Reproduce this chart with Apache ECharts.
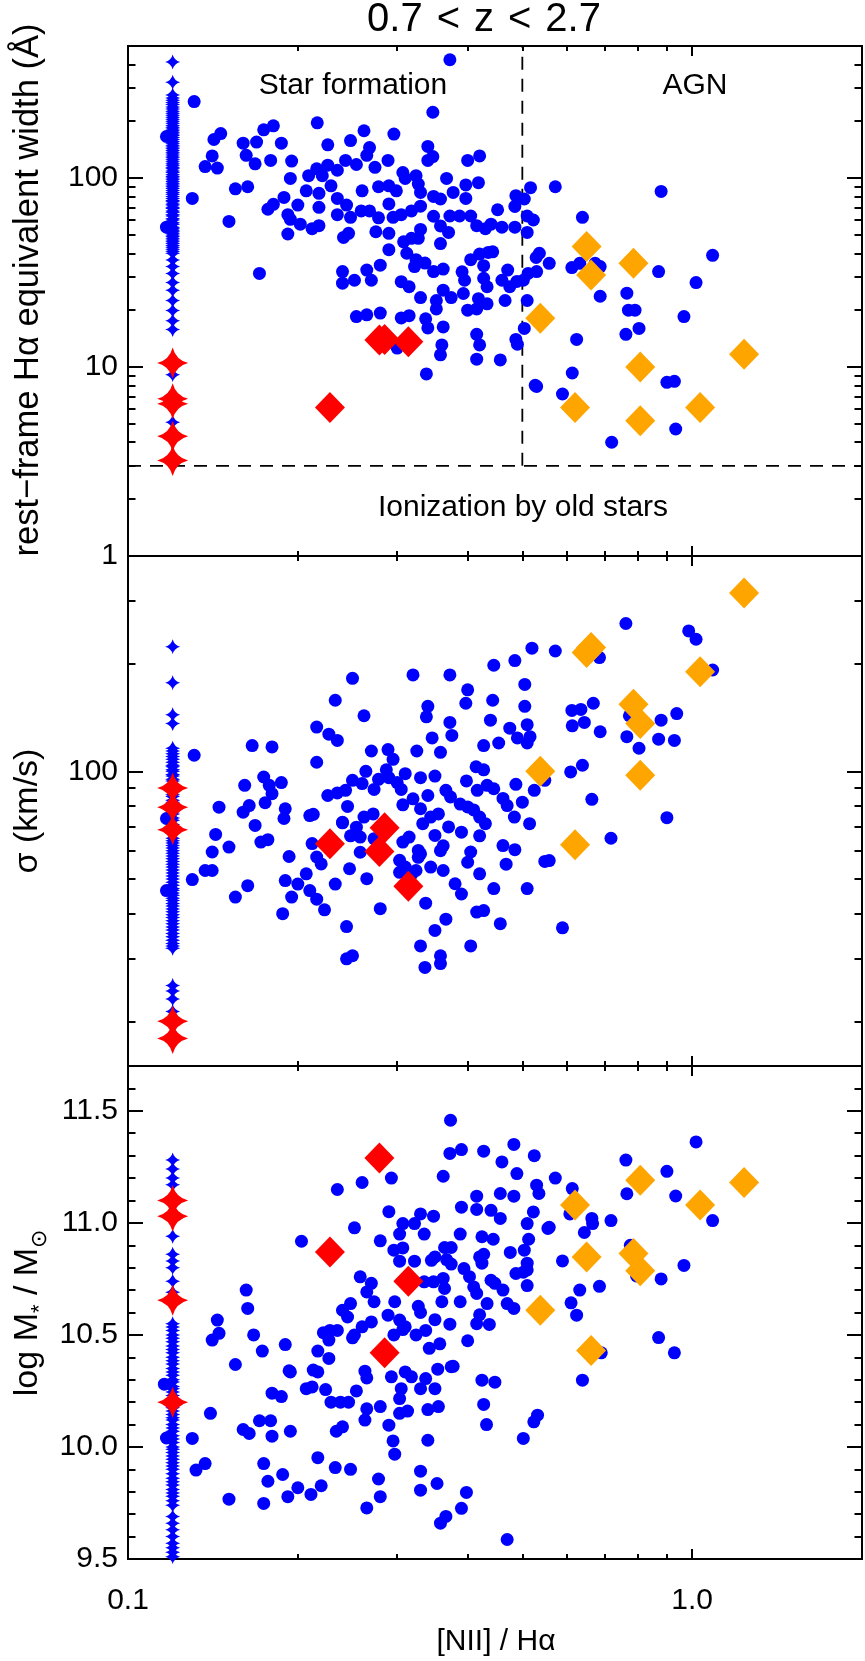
<!DOCTYPE html>
<html><head><meta charset="utf-8">
<script src="https://cdn.jsdelivr.net/npm/echarts@6/dist/echarts.min.js"></script>
<style>html,body{margin:0;padding:0;background:#fff;}#c{width:865px;height:1661px;}</style>
</head><body><div id="c"></div>
<script>
// ---------------- DATA ----------------
const titleText = '0.7 < z < 2.7';
const xTitle = '[NII] / Hα';
const ewTitle = 'rest−frame Hα equivalent width (Å)';
const sigmaTitle = 'σ (km/s)';
const regionLabels = ['Star formation', 'AGN', 'Ionization by old stars'];

const xRange = [0.1, 2.0];
const xMajorTicks = [0.1, 1.0];
const xMinorTicks = [0.2, 0.3, 0.4, 0.5, 0.6, 0.7, 0.8, 0.9];
const xTickLabels = ['0.1', '1.0'];

const ewRange = [1, 500];
const ewMajorTicks = [1, 10, 100];
const ewMinorTicks = [2,3,4,5,6,7,8,9,20,30,40,50,60,70,80,90,200,300,400];
const ewTickLabels = ['1', '10', '100'];

const sigmaRange = [15, 400];
const sigmaMajorTicks = [100];
const sigmaMinorTicks = [20,30,40,50,60,70,80,90,200,300];
const sigmaTickLabels = ['100'];

const massRange = [9.5, 11.7];
const massMajorTicks = [9.5, 10.0, 10.5, 11.0, 11.5];
const massMinorTicks = [9.6,9.7,9.8,9.9,10.1,10.2,10.3,10.4,10.6,10.7,10.8,10.9,11.1,11.2,11.3,11.4,11.6];
const massTickLabels = ['9.5', '10.0', '10.5', '11.0', '11.5'];

const agnDividerX = 0.5;
const oldStarsEW = 3;

// x position used for galaxies without [NII] detection
const limitX = 0.12;

// Blue: upper limits (plotted at limitX)
const ewBlueLimits = [411,321,275,265,258,251,245,238,232,226,220,215,210,205,200,195,190,186,182,178,175,171,168,164,160,156,153,149,146,143,140,137,134,131,128,125,122,119,117,114,112,109,107,104,102,100,98,96,94,92,90,88,86,84,82,80,78,76,75,73,72,70,69,67,66,64,63,61,60,58,57,55,54,53,52,51,50,49,48,47,46,45,44,43,42,41,40,36.9,34,31.3,28,25.5,22.5,19.9,17.6,15.8,9.1,5.1];
const sigmaBlueLimits = [223,177,144,136,116,114,112,110,108,106,104,103,101,100,98,97,95,94,92,91,89,88,86,85,83,82,80,79,77,76,74,73,71,70,68,67,65,64,63,62,61,60,59,58,57,56,55,54,53,52,51,50,49,48,47,46.5,45.7,45,44.2,43.5,42.7,42,41.2,40.5,39.7,39,38.2,37.5,36.7,36,35.2,34.5,33.7,33,32.5,32,25.2,24.3,23.1,21.3];
const massBlueLimits = [11.28,11.24,11.2,11.17,11.10,11.03,10.94,10.86,10.83,10.8,10.74,10.69,10.55,10.535,10.52,10.5,10.485,10.47,10.45,10.435,10.42,10.4,10.385,10.37,10.35,10.335,10.32,10.3,10.29,10.27,10.26,10.245,10.23,10.215,10.2,10.19,10.175,10.16,10.145,10.13,10.12,10.1,10.085,10.07,10.05,10.035,10.02,10.0,9.99,9.975,9.96,9.945,9.93,9.915,9.9,9.88,9.86,9.845,9.83,9.81,9.795,9.78,9.76,9.74,9.69,9.66,9.63,9.6,9.57,9.55,9.53,9.51];

// Red: upper limits (plotted at limitX)
const ewRedLimits = [10.5, 6.8, 6.4, 4.3, 3.2];
const sigmaRedLimits = [89.8, 79.3, 68.7, 20.0, 17.9];
const massRedLimits = [11.10, 11.03, 10.655, 10.2];

// Red diamonds
const redDiamondX = [0.228, 0.279, 0.285, 0.314];
const ewRedDiamondY = [6.1, 13.9, 14.0, 13.6];
const sigmaRedDiamondY = [62.7, 59.7, 69.5, 47.7];
const massRedDiamondY = [10.87, 11.29, 10.42, 10.74];

// Orange diamonds
const agnX = [0.538, 0.620, 0.650, 0.662, 0.787, 0.809, 0.809, 1.033, 1.236];
const ewAgnY = [18.1, 6.1, 43.5, 30.7, 35.4, 10.0, 5.2, 6.1, 11.7];
const sigmaAgnY = [100, 62.3, 215, 222, 154, 136, 97.5, 190, 315];
const massAgnY = [10.61, 11.08, 10.848, 10.43, 10.863, 11.19, 10.786, 11.08, 11.18];

// Blue dots [NII]/Ha, EW
const ewBlueDots = [[0.372,423],[0.131,254],[0.347,223],[0.2165,196],[0.174,180],[0.181,189],[0.262,178],[0.296,171],[0.142,160],[0.146,172],[0.160,153],[0.169,155],[0.187,153],[0.226,150],[0.248,158],[0.268,145],[0.265,132],[0.34,147],[0.347,130],[0.34,124],[0.42,131],[0.40,124],[0.141,131],[0.137,115],[0.144,113],[0.162,132],[0.168,119],[0.179,124],[0.195,123],[0.243,124],[0.254,118],[0.289,124],[0.209,103],[0.216,112],[0.221,103],[0.226,117],[0.235,110],[0.274,114],[0.307,107],[0.31,99.6],[0.324,103],[0.367,99.6],[0.397,92],[0.418,94.5],[0.194,99.6],[0.155,87.7],[0.163,90],[0.207,85.6],[0.218,83],[0.229,91],[0.26,85.6],[0.278,90],[0.29,91],[0.299,85.6],[0.327,93],[0.33,84],[0.377,84],[0.348,80],[0.358,77.5],[0.397,78],[0.189,79],[0.177,68.4],[0.181,72.6],[0.2,72],[0.218,70],[0.235,78],[0.244,72],[0.259,67],[0.268,67],[0.235,64],[0.248,62],[0.278,61.6],[0.29,73],[0.295,62],[0.305,64],[0.318,67],[0.33,71],[0.348,62.8],[0.358,55.8],[0.372,63],[0.387,63],[0.405,63],[0.415,56],[0.43,54],[0.44,57],[0.46,55],[0.452,68],[0.485,55],[0.485,70.8],[0.487,80.7],[0.504,77.5],[0.51,63],[0.523,60],[0.51,51.6],[0.517,89],[0.192,64],[0.194,60.5],[0.202,57],[0.212,54],[0.218,56],[0.192,50.6],[0.151,59],[0.13,78],[0.171,31.3],[0.241,48.5],[0.246,51],[0.275,52],[0.29,51],[0.28,34.6],[0.24,32],[0.24,27.8],[0.252,28.8],[0.265,32.6],[0.27,28.8],[0.29,41.8],[0.308,46],[0.318,48],[0.312,40],[0.324,37],[0.33,53.5],[0.327,48],[0.305,28.3],[0.315,26.6],[0.322,34],[0.336,35.5],[0.348,32],[0.362,33],[0.37,51.6],[0.358,45],[0.405,37],[0.42,39.6],[0.435,40.4],[0.443,40.7],[0.427,34.4],[0.427,29.5],[0.433,26.6],[0.391,31.9],[0.395,28.8],[0.46,28.8],[0.475,26.6],[0.489,28.4],[0.471,32.6],[0.502,28.8],[0.512,31.3],[0.53,32],[0.33,23.3],[0.352,22.5],[0.362,25.5],[0.374,23.3],[0.393,24.5],[0.418,23],[0.433,21.6],[0.4,20],[0.415,20.3],[0.466,22.5],[0.51,22.5],[0.254,18.5],[0.265,18.9],[0.28,19.3],[0.305,18.2],[0.315,18.7],[0.337,18],[0.34,16.1],[0.352,20.3],[0.362,16.3],[0.415,14.9],[0.42,13.1],[0.36,13.1],[0.358,11.6],[0.487,14.0],[0.49,13.2],[0.504,16],[0.3,12.6],[0.338,9.2],[0.415,11],[0.457,10.9],[0.527,8.0],[0.572,90],[0.881,85],[0.639,62],[1.087,39],[0.872,32],[1.016,28],[0.612,33.6],[0.632,35.4],[0.673,35.4],[0.687,34],[0.558,35.4],[0.536,40],[0.529,38],[0.687,23.7],[0.766,24.6],[0.771,20],[0.792,20],[0.967,18.5],[0.805,16],[0.763,14.9],[0.624,14.0],[0.613,9.3],[0.53,7.9],[0.589,7.2],[0.902,8.3],[0.93,8.4],[0.935,4.7],[0.72,4.0],[0.117,166],[0.117,55]];

// Blue dots [NII]/Ha, sigma
const sigmaBlueDots = [[0.131,110.9],[0.166,118],[0.18,117],[0.216,133],[0.227,127],[0.235,122],[0.216,106],[0.233,158],[0.25,182],[0.262,143],[0.32,186],[0.372,186],[0.4,169],[0.397,155],[0.445,198],[0.485,204],[0.52,221],[0.505,175],[0.505,152],[0.443,158],[0.34,152],[0.338,142],[0.372,137],[0.375,126],[0.439,139],[0.475,132],[0.49,124],[0.346,124],[0.358,113],[0.325,114],[0.427,118],[0.454,120],[0.51,135],[0.516,125],[0.51,120],[0.27,114],[0.289,115],[0.295,108],[0.264,100],[0.287,101],[0.29,96],[0.3,93],[0.305,89],[0.31,98.5],[0.33,96],[0.35,97],[0.414,103],[0.427,101],[0.398,94],[0.416,88.5],[0.433,91.4],[0.445,89.4],[0.462,84],[0.47,80.2],[0.487,92],[0.484,74.5],[0.5,82],[0.525,88.5],[0.548,94.4],[0.25,94.4],[0.26,92.4],[0.273,89],[0.278,95],[0.226,85.6],[0.235,87],[0.243,88.5],[0.245,79.8],[0.24,72],[0.248,66],[0.262,74.5],[0.272,76],[0.254,69.8],[0.258,65.5],[0.258,59.4],[0.273,64.8],[0.307,80.6],[0.32,83.8],[0.33,78.6],[0.34,85.6],[0.333,71.4],[0.344,74.5],[0.355,76],[0.37,69.9],[0.366,88.5],[0.373,84.8],[0.388,81],[0.4,79.5],[0.41,78],[0.42,74.5],[0.43,71.4],[0.35,66.2],[0.362,61.9],[0.358,60],[0.39,67.6],[0.42,66],[0.462,62],[0.485,60.4],[0.468,55],[0.515,71.4],[0.548,56],[0.51,47],[0.405,59.5],[0.4,55.7],[0.344,54],[0.362,52.8],[0.38,48.5],[0.39,45.4],[0.303,56.4],[0.31,54],[0.303,52.2],[0.318,51.4],[0.324,52.8],[0.33,58.8],[0.315,65.5],[0.307,63.4],[0.327,60.1],[0.327,57.5],[0.42,51.7],[0.427,40.8],[0.415,40.4],[0.445,47],[0.457,37.5],[0.28,41.3],[0.265,50.1],[0.247,53.4],[0.233,48.4],[0.22,55.1],[0.216,57.6],[0.212,62.8],[0.23,62.1],[0.207,51.7],[0.2,48.4],[0.19,49.5],[0.195,44.5],[0.21,46.4],[0.216,43.9],[0.223,41],[0.188,40],[0.193,57.8],[0.19,78.6],[0.189,73.8],[0.21,75.2],[0.213,75.8],[0.24,71.8],[0.244,36.8],[0.25,30.5],[0.244,29.9],[0.33,32.5],[0.336,28.3],[0.358,30.5],[0.358,29],[0.366,38.6],[0.35,35.9],[0.405,32.5],[0.337,42.8],[0.161,91.4],[0.174,96.4],[0.178,91.4],[0.18,86.6],[0.187,93],[0.175,81.7],[0.164,80.2],[0.16,76.9],[0.145,79.4],[0.143,66.6],[0.141,59.5],[0.151,61.4],[0.168,70.6],[0.172,63.4],[0.177,64.4],[0.13,49.8],[0.137,52.8],[0.141,52.8],[0.155,44.5],[0.163,47.9],[0.117,46.4],[0.117,73.8],[0.763,259],[0.986,247],[1.016,234],[0.572,217],[0.685,208],[1.087,192],[0.612,148],[0.635,149],[0.668,155],[0.774,143],[0.613,134],[0.644,137],[0.687,129],[0.881,139],[0.939,145],[0.766,125],[0.805,116],[0.872,123],[0.93,122],[0.639,104],[0.609,99.6],[0.664,83.5],[0.902,74.2],[0.718,65],[0.558,56.3],[0.589,36.5]];

// Blue dots [NII]/Ha, log stellar mass
const massBlueDots = [[0.373,11.458],[0.372,11.31],[0.39,11.327],[0.427,11.32],[0.46,11.272],[0.483,11.35],[0.525,11.3],[0.362,11.208],[0.293,11.2],[0.26,11.18],[0.235,11.149],[0.489,11.22],[0.53,11.168],[0.535,11.131],[0.415,11.119],[0.457,11.131],[0.483,11.119],[0.29,11.05],[0.39,11.07],[0.415,11.06],[0.44,11.056],[0.457,11.02],[0.33,11.04],[0.348,11.03],[0.307,10.997],[0.322,10.997],[0.252,10.978],[0.523,11.049],[0.51,10.997],[0.555,10.975],[0.203,10.918],[0.28,10.92],[0.303,10.95],[0.335,10.95],[0.388,10.95],[0.424,10.938],[0.444,10.927],[0.296,10.878],[0.307,10.888],[0.303,10.829],[0.322,10.829],[0.364,10.89],[0.374,10.89],[0.367,10.836],[0.374,10.816],[0.345,10.833],[0.35,10.848],[0.42,10.848],[0.424,10.82],[0.427,10.86],[0.476,10.868],[0.504,10.878],[0.51,10.82],[0.51,10.79],[0.51,10.72],[0.487,10.774],[0.502,10.78],[0.394,10.796],[0.403,10.76],[0.41,10.714],[0.415,10.685],[0.44,10.744],[0.447,10.73],[0.462,10.7],[0.47,10.64],[0.483,10.618],[0.335,10.737],[0.348,10.737],[0.362,10.752],[0.364,10.707],[0.258,10.759],[0.27,10.73],[0.265,10.692],[0.273,10.648],[0.24,10.61],[0.248,10.64],[0.245,10.58],[0.297,10.648],[0.327,10.628],[0.33,10.6],[0.36,10.648],[0.388,10.648],[0.42,10.59],[0.433,10.64],[0.415,10.55],[0.437,10.547],[0.35,10.568],[0.372,10.548],[0.289,10.588],[0.26,10.536],[0.27,10.558],[0.252,10.5],[0.25,10.487],[0.228,10.52],[0.235,10.52],[0.222,10.51],[0.227,10.477],[0.296,10.5],[0.307,10.524],[0.324,10.5],[0.337,10.52],[0.303,10.566],[0.31,10.536],[0.342,10.44],[0.357,10.46],[0.4,10.474],[0.374,10.358],[0.217,10.428],[0.227,10.395],[0.213,10.343],[0.217,10.335],[0.19,10.457],[0.194,10.335],[0.173,10.428],[0.167,10.5],[0.162,10.7],[0.163,10.618],[0.141,10.477],[0.145,10.507],[0.144,10.566],[0.155,10.368],[0.14,10.15],[0.13,10.038],[0.132,9.897],[0.137,9.926],[0.151,9.767],[0.16,10.078],[0.164,10.06],[0.171,10.117],[0.179,10.117],[0.18,10.048],[0.194,10.07],[0.174,9.926],[0.177,9.847],[0.174,9.748],[0.188,9.877],[0.192,9.778],[0.2,9.818],[0.211,9.788],[0.217,9.952],[0.22,9.827],[0.233,9.908],[0.248,9.9],[0.234,10.07],[0.24,10.09],[0.18,10.24],[0.187,10.225],[0.193,10.34],[0.207,10.26],[0.212,10.268],[0.224,10.256],[0.229,10.2],[0.238,10.2],[0.246,10.2],[0.254,10.25],[0.263,10.338],[0.265,10.308],[0.263,10.12],[0.265,10.17],[0.28,10.18],[0.265,9.728],[0.278,9.857],[0.28,9.778],[0.29,10.097],[0.295,10.027],[0.297,9.968],[0.293,10.313],[0.303,10.216],[0.305,10.26],[0.303,10.15],[0.313,10.16],[0.31,10.335],[0.318,10.313],[0.33,9.892],[0.33,9.807],[0.33,10.26],[0.337,10.305],[0.35,10.26],[0.34,10.167],[0.355,10.18],[0.34,10.03],[0.353,9.837],[0.358,9.66],[0.366,9.69],[0.39,9.726],[0.398,9.797],[0.354,10.347],[0.377,10.36],[0.424,10.298],[0.427,10.19],[0.432,10.1],[0.447,10.289],[0.47,9.587],[0.502,10.038],[0.524,10.112],[0.532,10.142],[0.116,10.28],[0.117,10.04],[1.016,11.361],[0.763,11.28],[0.902,11.23],[0.572,11.2],[0.613,11.153],[0.766,11.13],[0.935,11.12],[0.607,11.04],[0.664,11.02],[0.666,10.997],[0.644,10.957],[0.718,11.01],[1.087,11.01],[0.558,10.98],[0.513,10.927],[0.589,10.83],[0.777,10.9],[0.967,10.81],[0.881,10.75],[0.797,10.763],[0.685,10.717],[0.632,10.7],[0.61,10.643],[0.624,10.588],[0.872,10.488],[0.93,10.42],[0.69,10.42],[0.639,10.298]];

// ---------------- CHART ----------------
const FONT = '"Liberation Sans", Arial, Helvetica, sans-serif';
const L = Math.log10;
const ID = v => v;
const BLUE = '#0000ff', RED = '#ff0000', ORANGE = '#ffa500';
const starPath = 'path://M0,-10 Q2,-2 10,0 Q2,2 0,10 Q-2,2 -10,0 Q-2,-2 0,-10 Z';

const GRID_LEFT = 128, GRID_W = 734;
const panels = [
  {top: 46,   height: 510, fy: L,  range: ewRange,    major: ewMajorTicks,    minor: ewMinorTicks,    labels: ewTickLabels,
   blueLim: ewBlueLimits, redLim: ewRedLimits, redDY: ewRedDiamondY, agnY: ewAgnY, dots: ewBlueDots},
  {top: 556,  height: 510, fy: L,  range: sigmaRange, major: sigmaMajorTicks, minor: sigmaMinorTicks, labels: sigmaTickLabels,
   blueLim: sigmaBlueLimits, redLim: sigmaRedLimits, redDY: sigmaRedDiamondY, agnY: sigmaAgnY, dots: sigmaBlueDots},
  {top: 1066, height: 493, fy: ID, range: massRange,  major: massMajorTicks,  minor: massMinorTicks,  labels: massTickLabels,
   blueLim: massBlueLimits, redLim: massRedLimits, redDY: massRedDiamondY, agnY: massAgnY, dots: massBlueDots}
];

function nearestLabel(vals, labels, v) {
  let best = 0, bd = Infinity;
  vals.forEach((t, i) => { const d = Math.abs(t - v); if (d < bd) { bd = d; best = i; } });
  return labels[best];
}
function axis(grid, pos, min, max, ticks, len, labelOpt) {
  return {
    gridIndex: grid, type: 'value', position: pos, min: min, max: max,
    axisLine: {show: false, onZero: false},
    splitLine: {show: false},
    axisTick: {show: true, inside: true, length: len, customValues: ticks, lineStyle: {color: '#000', width: 2}},
    axisLabel: labelOpt || {show: false}
  };
}

const grids = [], xAxes = [], yAxes = [], series = [];
const xMin = L(xRange[0]), xMax = L(xRange[1]);
const xMaj = xMajorTicks.map(L), xMin2 = xMinorTicks.map(L);

panels.forEach((p, i) => {
  grids.push({left: GRID_LEFT, width: GRID_W, top: p.top, height: p.height, show: true,
              borderColor: '#000', borderWidth: 2, backgroundColor: 'transparent'});
  const xLab = (i === 2) ? {show: true, customValues: xMaj, formatter: v => nearestLabel(xMaj, xTickLabels, v),
    fontSize: 30, fontFamily: FONT, color: '#000', margin: 27, lineHeight: 30} : null;
  xAxes.push(axis(i, 'bottom', xMin, xMax, xMaj, 10, xLab));
  xAxes.push(axis(i, 'top', xMin, xMax, xMaj, 10));
  xAxes.push(axis(i, 'bottom', xMin, xMax, xMin2, 5));
  xAxes.push(axis(i, 'top', xMin, xMax, xMin2, 5));
  const yMin = p.fy(p.range[0]), yMax = p.fy(p.range[1]);
  const yMaj = p.major.map(p.fy), yMinr = p.minor.map(p.fy);
  const yLab = {show: true, customValues: yMaj, formatter: v => nearestLabel(yMaj, p.labels, v),
    fontSize: 30, fontFamily: FONT, color: '#000', margin: 10};
  yAxes.push(axis(i, 'left', yMin, yMax, yMaj, 15, yLab));
  yAxes.push(axis(i, 'right', yMin, yMax, yMaj, 15));
  yAxes.push(axis(i, 'left', yMin, yMax, yMinr, 7.5));
  yAxes.push(axis(i, 'right', yMin, yMax, yMinr, 7.5));

  const xi = 4 * i, yi = 4 * i;
  const base = {type: 'scatter', xAxisIndex: xi, yAxisIndex: yi, silent: true, animation: false};
  series.push(Object.assign({}, base, {symbol: starPath, symbolSize: [15, 15], itemStyle: {color: BLUE, opacity: 1},
    data: p.blueLim.map(y => [L(limitX), p.fy(y)]), z: 3}));
  series.push(Object.assign({}, base, {symbol: 'circle', symbolSize: 13, itemStyle: {color: BLUE, opacity: 1},
    data: p.dots.map(d => [L(d[0]), p.fy(d[1])]), z: 3}));
  series.push(Object.assign({}, base, {symbol: starPath, symbolSize: [31, 31], itemStyle: {color: RED, opacity: 1},
    data: p.redLim.map(y => [L(limitX), p.fy(y)]), z: 4}));
  series.push(Object.assign({}, base, {symbol: 'diamond', symbolSize: [30, 31], itemStyle: {color: RED, opacity: 1},
    data: redDiamondX.map((x, k) => [L(x), p.fy(p.redDY[k])]), z: 4}));
  series.push(Object.assign({}, base, {symbol: 'diamond', symbolSize: [30, 31], itemStyle: {color: ORANGE, opacity: 1},
    data: agnX.map((x, k) => [L(x), p.fy(p.agnY[k])]), z: 4}));
});

// dashed dividers in the top panel
const dashStyle = {color: '#000', width: 1.8, type: [13, 9]};
series.push({type: 'line', xAxisIndex: 0, yAxisIndex: 0, silent: true, animation: false, symbol: 'none', z: 2,
  lineStyle: dashStyle, data: [[L(agnDividerX), L(oldStarsEW)], [L(agnDividerX), L(ewRange[1])]]});
series.push({type: 'line', xAxisIndex: 0, yAxisIndex: 0, silent: true, animation: false, symbol: 'none', z: 2,
  lineStyle: dashStyle, data: [[L(xRange[0]), L(oldStarsEW)], [L(xRange[1]), L(oldStarsEW)]]});

function txt(x, y, text, size, rot, extra) {
  return {type: 'text', x: x, y: y, rotation: rot || 0, silent: true,
    style: Object.assign({text: text, fontSize: size, fontFamily: FONT, fill: '#000', align: 'center', verticalAlign: 'middle'}, extra || {})};
}
const titleRich = titleText.split(' ').map(w => '{t|' + w + '}').join('{s| }');
const graphics = [
  txt(484, 20, titleRich, 40, 0, {rich: {
    t: {fontSize: 40, fontFamily: FONT, fill: '#000'},
    s: {fontSize: 40, fontFamily: FONT, width: 14}
  }}),
  txt(353, 86, regionLabels[0], 30),
  txt(695, 86, regionLabels[1], 30),
  txt(523, 508, regionLabels[2], 30),
  txt(496, 1642, xTitle, 30),
  txt(28, 290, ewTitle, 34.5, Math.PI / 2),
  txt(28, 811, sigmaTitle, 34, Math.PI / 2),
  txt(28, 1313, '{n|log M}{s|*}{n| / M}{s|⊙}', 34, Math.PI / 2, {rich: {
    n: {fontSize: 34, fontFamily: FONT, lineHeight: 46, verticalAlign: 'middle', fill: '#000'},
    s: {fontSize: 22, fontFamily: FONT, lineHeight: 46, verticalAlign: 'bottom', fill: '#000'}
  }})
];

const chart = echarts.init(document.getElementById('c'), null, {renderer: 'canvas'});
chart.setOption({
  animation: false,
  backgroundColor: '#fff',
  grid: grids, xAxis: xAxes, yAxis: yAxes, series: series, graphic: graphics
});
</script></body></html>
